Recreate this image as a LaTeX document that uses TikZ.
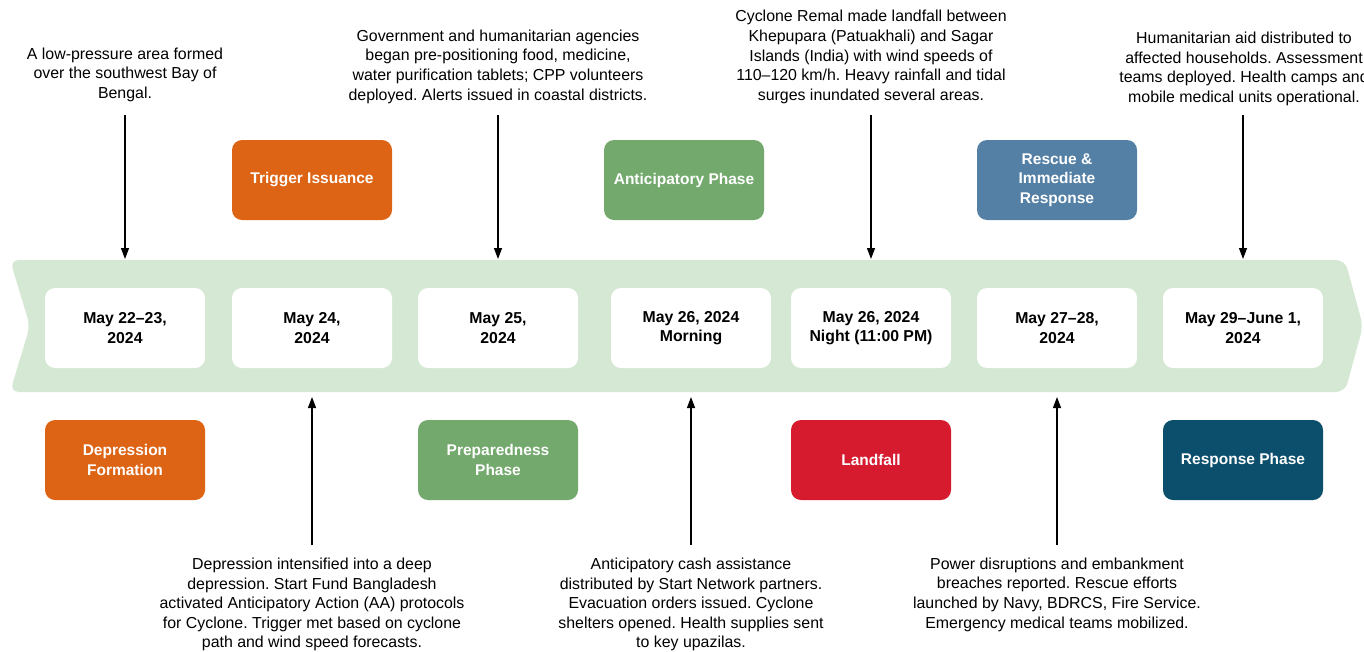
\documentclass[tikz,border=0pt]{standalone}
\usepackage{fontspec}
\setmainfont{Liberation Sans}
\usetikzlibrary{arrows.meta}
\frenchspacing
\definecolor{band}{RGB}{213,232,212}
\definecolor{corange}{RGB}{221,100,20}
\definecolor{cgreen}{RGB}{116,169,110}
\definecolor{cblue}{RGB}{84,128,165}
\definecolor{cred}{RGB}{214,27,46}
\definecolor{cteal}{RGB}{11,79,108}
\tikzset{
  datebox/.style={fill=white, rounded corners=10pt, minimum width=160pt, minimum height=80pt, align=center, font=\fontsize{15.8}{19.5}\selectfont\bfseries, inner sep=0pt},
  phasebox/.style={rounded corners=10pt, minimum width=160pt, minimum height=80pt, align=center, text=white, font=\fontsize{15.5}{19.5}\selectfont\bfseries, inner sep=0pt},
  desc/.style={align=center, font=\fontsize{15.9}{19.6}\selectfont, inner sep=0pt},
  arr/.style={line width=1.3pt, -{Triangle[length=11pt,width=8pt]}}
}
\begin{document}
\begin{tikzpicture}[x=1pt,y=-1pt]
\useasboundingbox (0,0) rectangle (1364,651);
% band
\fill[band, rounded corners=9pt] (10,260) -- (1345,260) -- (1363,326) -- (1345,392) -- (10,392) -- (30,326) -- cycle;
% date boxes
\node[datebox] (d1) at (125,328) {May 22–23,\\2024};
\node[datebox] (d2) at (312,328) {May 24,\\2024};
\node[datebox] (d3) at (498,328) {May 25,\\2024};
\node[datebox] (d4) at (691,328) {May 26, 2024\\Morning};
\node[datebox] (d5) at (871,328) {May 26, 2024\\Night (11:00 PM)};
\node[datebox] (d6) at (1057,328) {May 27–28,\\2024};
\node[datebox] (d7) at (1243,328) {May 29–June 1,\\2024};
% phase boxes
\node[phasebox, fill=corange] (p1) at (125,460) {Depression\\Formation};
\node[phasebox, fill=corange] (p2) at (312,180) {Trigger Issuance};
\node[phasebox, fill=cgreen] (p3) at (498,460) {Preparedness\\Phase};
\node[phasebox, fill=cgreen] (p4) at (684,180) {Anticipatory Phase};
\node[phasebox, fill=cred] (p5) at (871,460) {Landfall};
\node[phasebox, fill=cblue] (p6) at (1057,180) {Rescue \&\\Immediate\\Response};
\node[phasebox, fill=cteal] (p7) at (1243,460) {Response Phase};
% band edge coordinates
\coordinate (b1) at (125,259);
\coordinate (b2) at (312,397);
\coordinate (b3) at (498,259);
\coordinate (b4) at (691,397);
\coordinate (b5) at (871,259);
\coordinate (b6) at (1057,397);
\coordinate (b7) at (1243,259);
% descriptions
\node[desc] (t1) at (125,74.5) {A low-pressure area formed\\over the southwest Bay of\\Bengal.};
\node[desc] (t3) at (498,66.5) {Government and humanitarian agencies\\began pre-positioning food, medicine,\\water purification tablets; CPP volunteers\\deployed. Alerts issued in coastal districts.};
\node[desc] (t5) at (871,57) {Cyclone Remal made landfall between\\Khepupara (Patuakhali) and Sagar\\Islands (India) with wind speeds of\\110–120 km/h. Heavy rainfall and tidal\\surges inundated several areas.};
\node[desc] (t7) at (1244,69) {Humanitarian aid distributed to\\affected households. Assessment\\teams deployed. Health camps and\\mobile medical units operational.};
\node[desc] (t2) at (312,604.5) {Depression intensified into a deep\\depression. Start Fund Bangladesh\\activated Anticipatory Action (AA) protocols\\for Cyclone. Trigger met based on cyclone\\path and wind speed forecasts.};
\node[desc] (t4) at (691,604.5) {Anticipatory cash assistance\\distributed by Start Network partners.\\Evacuation orders issued. Cyclone\\shelters opened. Health supplies sent\\to key upazilas.};
\node[desc] (t6) at (1057,594.5) {Power disruptions and embankment\\breaches reported. Rescue efforts\\launched by Navy, BDRCS, Fire Service.\\Emergency medical teams mobilized.};
% arrows
\coordinate (s1) at (125,115);
\coordinate (s3) at (498,115);
\coordinate (s5) at (871,115);
\coordinate (s7) at (1243,115);
\coordinate (s2) at (312,545);
\coordinate (s4) at (691,545);
\coordinate (s6) at (1057,545);
\draw[arr] (s1) -- (b1);
\draw[arr] (s3) -- (b3);
\draw[arr] (s5) -- (b5);
\draw[arr] (s7) -- (b7);
\draw[arr] (s2) -- (b2);
\draw[arr] (s4) -- (b4);
\draw[arr] (s6) -- (b6);
\end{tikzpicture}
\end{document}
